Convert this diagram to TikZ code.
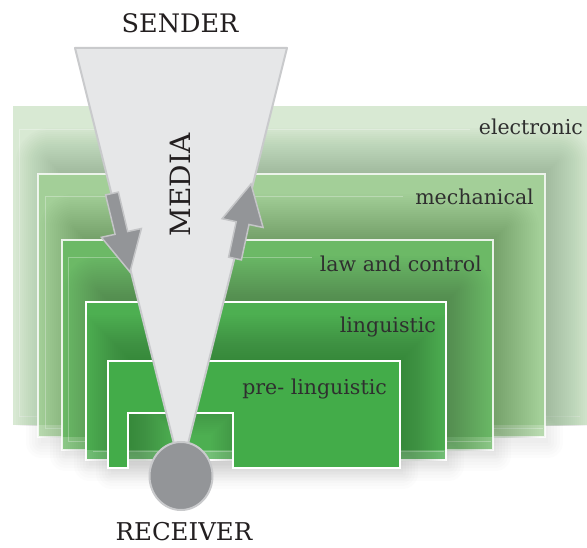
\documentclass[tikz,border=0pt]{standalone}
\usepackage{fontspec}
\setmainfont{DejaVu Serif}
\usetikzlibrary{shapes.geometric}

\definecolor{elecC}{HTML}{D8E9D3}
\definecolor{mechC}{HTML}{A3CF98}
\definecolor{lawC}{HTML}{6CB966}
\definecolor{lingC}{HTML}{4DAF51}
\definecolor{preC}{HTML}{43AC49}
\definecolor{shadeC}{HTML}{143C14}
\definecolor{mediaC}{HTML}{E6E7E8}
\definecolor{mediaLine}{HTML}{C9CACC}
\definecolor{arrowC}{HTML}{939598}
\definecolor{arrowLine}{HTML}{C4C5C7}
\definecolor{textC}{HTML}{2F2F2F}
\definecolor{titleC}{HTML}{231F20}

% soft shadow of a layer box, cast up and to the right
\newcommand\halorect[4]{%
  \foreach \m in {-10,-8,...,34}{%
    \pgfmathsetmacro\rc{max(\m,0.5)}%
    \fill[shadeC,opacity=0.0125,rounded corners=\rc pt]
      ({#1+12-\m},{#2-12-\m}) rectangle ({#3+12+\m},{#4-12+\m});
  }}
% the same for the innermost layer, which has a notch at the bottom
\newcommand\halopre{%
  \foreach \m in {-10,-8,...,34}{%
    \fill[shadeC,opacity=0.0125]
      ({120-\m},{349-\m}) -- ({412+\m},{349-\m}) -- ({412+\m},{456+\m})
      -- ({245-\m},{456+\m}) -- ({245-\m},{401+\m}) -- ({140+\m},{401+\m})
      -- ({140+\m},{456+\m}) -- ({120-\m},{456+\m}) -- cycle;
  }}
% faint grey shadow under a layer, on the page
\newcommand\droprect[4]{%
  \foreach \m in {0,3,...,15}{%
    \pgfmathsetmacro\rc{\m+0.5}%
    \fill[black,opacity=0.012,rounded corners=\rc pt]
      ({#1+3-\m},{#2+6-\m}) rectangle ({#3+3+\m},{#4+6+\m});
  }}

\begin{document}
\begin{tikzpicture}[x=1pt,y=-1pt,
  layerborder/.style={draw=white,line width=2.5pt},
  innerframe/.style={draw=white,opacity=0.3,line width=0.8pt},
  lightstrip/.style={fill=white,opacity=0.22},
  boxlabel/.style={font=\fontsize{20.5}{24}\selectfont,text=textC,anchor=base east,inner sep=0pt},
  titlelabel/.style={font=\fontsize{25.5}{30}\selectfont,text=titleC,anchor=base,inner sep=0pt},
  arrowshape/.style={fill=arrowC,draw=arrowLine,line width=1.5pt,line join=miter}]

\useasboundingbox[fill=white] (0,0) rectangle (587,548);

% shadows on the page under the layers
\droprect{38}{174}{545}{437}
\droprect{62}{240}{493}{450}
\droprect{86}{302}{446}{460}
\droprect{108}{361}{400}{468}

% electronic
\fill[elecC] (13,106) rectangle (587,425);
\draw[innerframe] (470,129) -- (19,129) -- (19,416) -- (580,416);

% mechanical
\begin{scope}
  \clip (13,106) rectangle (587,425);
  \halorect{38}{174}{545}{437}
\end{scope}
\fill[mechC] (38,174) rectangle (545,437);
\fill[lightstrip] (38,425) rectangle (545,437);
\draw[innerframe] (403,196) -- (45,196) -- (45,428) -- (543,428);
\draw[layerborder,draw opacity=0.8] (38,174) rectangle (545,437);

% law and control
\begin{scope}
  \clip (38,174) rectangle (545,437);
  \halorect{62}{240}{493}{450}
\end{scope}
\fill[lawC] (62,240) rectangle (493,450);
\fill[lightstrip] (62,437) rectangle (493,450);
\draw[innerframe] (312,257) -- (68,257) -- (68,441) -- (491,441);
\draw[layerborder,draw opacity=0.85] (62,240) rectangle (493,450);

% linguistic
\begin{scope}
  \clip (62,240) rectangle (493,450);
  \halorect{86}{302}{446}{460}
\end{scope}
\fill[lingC] (86,302) rectangle (446,460);
\fill[lightstrip] (86,450) rectangle (446,460);
\draw[innerframe] (93,451) -- (444,451);
\draw[layerborder] (86,302) rectangle (446,460);

% pre-linguistic, with its notch
\begin{scope}
  \clip (86,302) rectangle (446,460);
  \halopre
\end{scope}
\filldraw[fill=preC,layerborder,line join=miter]
  (108,361) -- (400,361) -- (400,468) -- (233,468) -- (233,413)
  -- (128,413) -- (128,468) -- (108,468) -- cycle;

% layer names
\node[boxlabel] (electronic) at (583,135) {electronic};
\node[boxlabel] (mechanical) at (534,205) {mechanical};
\node[boxlabel] (law) at (482,272) {law and control};
\node[boxlabel] (linguistic) at (436,333) {linguistic};
\node[boxlabel] (prelinguistic) at (387,395) {pre- linguistic};

% the media funnel
\filldraw[fill=mediaC,draw=mediaLine,line width=2pt,line join=round]
  (75,48) -- (287,48) -- (181,472) -- cycle;
\node[font=\fontsize{28}{32}\selectfont,text=titleC,rotate=90,inner sep=0pt]
  (media) at (180.5,185) {MEDIA};

% outgoing and returning arrows
\draw[arrowshape] (118.4,192.1) -- (127.7,231.5) -- (141.4,228.5) -- (130,272)
  -- (101.4,237.3) -- (115.1,234.3) -- (105.6,194.9) -- cycle;
\draw[arrowshape] (241.4,259.9) -- (249,224.5) -- (263.1,227.5) -- (251,184)
  -- (222.1,218.7) -- (236.2,221.7) -- (228.6,257.1) -- cycle;

% receiver
\node[ellipse,fill=arrowC,draw=mediaLine,line width=2pt,
  minimum width=63pt,minimum height=68pt,inner sep=0pt] (dot) at (181,476) {};

\node[titlelabel] (sender) at (180,33) {SENDER};
\node[titlelabel,font=\fontsize{24.5}{29}\selectfont] (receiver) at (184,540) {RECEIVER};
\end{tikzpicture}
\end{document}
